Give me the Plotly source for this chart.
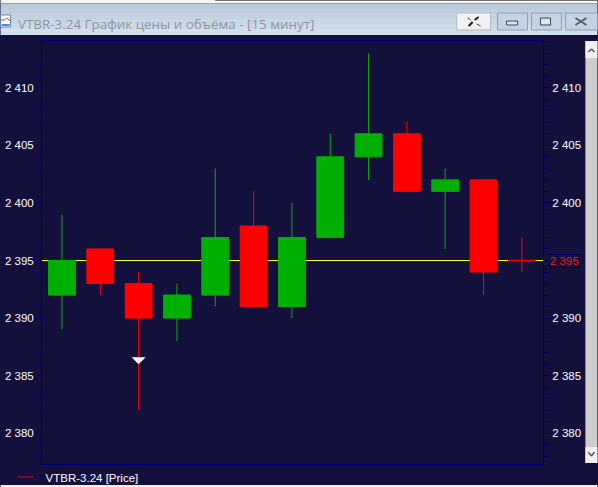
import plotly.graph_objects as go

# ---- data ----
bar_index = list(range(13))
opens = [2392, 2396, 2393, 2390, 2392, 2398, 2391, 2397, 2404, 2406, 2401, 2402, 2395.02]
closes = [2395, 2393, 2390, 2392, 2397, 2391, 2397, 2404, 2406, 2401, 2402, 2394, 2395]
highs = [2399, 2396, 2394, 2393, 2403, 2401, 2400, 2406, 2413, 2407, 2403, 2402, 2397]
lows = [2389, 2392, 2382, 2388, 2391, 2391, 2390, 2397, 2402, 2401, 2396, 2392, 2394]
last_price = 2395
signal_bar = 2
signal_price = 2386.6
tick_values = [2380, 2385, 2390, 2395, 2400, 2405, 2410]
tick_labels = ["2 380", "2 385", "2 390", "2 395", "2 400", "2 405", "2 410"]
right_labels = ["2 380", "2 385", "2 390", "", "2 400", "2 405", "2 410"]
title_text = "VTBR-3.24 График цены и объёма - [15 минут]"
legend_text = "VTBR-3.24 [Price]"

BG = "#14103C"
AXIS = "#000078"
GREEN = "#00B000"
RED = "#FF0000"
FONT = "Liberation Sans"

W, H = 598, 487
L, R_, T, B = 41.5, 543.5, 41, 464
ymax = 2395 + (260.5 - T) / 11.52
ymin = 2395 - (B - 260.5) / 11.52
xmin = -(61.5 - L) / 38.4
xmax = (R_ - 61.5) / 38.4


def px(x):
    return (x - L) / (R_ - L)


def py(y):
    return (B - y) / (B - T)


def rect(x0, y0, x1, y1, fill, line=None, width=1):
    return dict(type="rect", xref="paper", yref="paper", layer="above",
                x0=px(x0), x1=px(x1), y0=py(y0), y1=py(y1), fillcolor=fill,
                line=dict(color=line or fill, width=width if line else 0))


def seg(x0, y0, x1, y1, color, width=1):
    return dict(type="line", xref="paper", yref="paper", layer="above",
                x0=px(x0), x1=px(x1), y0=py(y0), y1=py(y1),
                line=dict(color=color, width=width))


fig = go.Figure()

# last price line (left axis, below candles)
fig.add_trace(go.Scatter(x=[xmin, xmax], y=[last_price, last_price], mode="lines",
                         line=dict(color="#FFFF30", width=1), yaxis="y",
                         showlegend=False, hoverinfo="skip"))
fig.add_trace(go.Candlestick(x=bar_index, open=opens, high=highs, low=lows, close=closes,
                             yaxis="y2", whiskerwidth=0, showlegend=False,
                             increasing=dict(line=dict(color=GREEN, width=1), fillcolor=GREEN),
                             decreasing=dict(line=dict(color=RED, width=1), fillcolor=RED)))
fig.add_trace(go.Scatter(x=[None], y=[None], mode="markers", name=legend_text, yaxis="y2",
                         marker=dict(symbol="line-ew", size=11,
                                     line=dict(color="#C01020", width=1))))

shapes = []
# top strip
shapes.append(rect(0, 0, W, 4, "#F4F4F4"))
shapes.append(rect(215, 0, W, 1, "#777777"))
shapes.append(rect(0, 3, W, 4, "#9AA4AE"))
# gradient title bar
bands = ["#BBCBDB", "#BFCFDF", "#C3D3E2", "#C8D7E6", "#CDDBE9", "#D2DFEC"]
for i, c in enumerate(bands):
    shapes.append(rect(0, 4 + i * 5, W, 4 + (i + 1) * 5 + 1, c))
# window icon
shapes.append(rect(0, 15, 10, 27, "#FFFFFF", "#5B86B5"))
shapes.append(seg(0, 20, 4, 20, "#D04030"))
shapes.append(seg(4, 20, 6, 18, "#D04030"))
shapes.append(seg(6, 18, 10, 21, "#D04030"))
shapes.append(rect(1, 24, 9, 26, "#5B86B5"))
# buttons
shapes.append(rect(457, 13, 491, 30, "#F1F1F1", "#AEB9C4"))
shapes.append(rect(498, 13, 528, 30, "#C5D4E3", "#8CA0B4"))
shapes.append(rect(532, 13, 562, 30, "#C5D4E3", "#8CA0B4"))
shapes.append(rect(566, 13, 598, 30, "#C5D4E3", "#8CA0B4"))
# link glyph
shapes.append(seg(469, 26, 473, 22, "#222222", 2))
shapes.append(seg(475, 20, 479, 17, "#222222", 2))
shapes.append(seg(468, 18, 471, 20, "#444444"))
shapes.append(seg(477, 24, 481, 26, "#444444"))
# min / max / close glyphs
shapes.append(rect(507, 21, 518, 25, "#DCE6F0", "#3C4650"))
shapes.append(rect(541, 18, 551, 25, "#DCE6F0", "#3C4650"))
shapes.append(seg(576, 18, 587, 25, "#555D66", 2))
shapes.append(seg(576, 25, 587, 18, "#555D66", 2))
# scrollbar
shapes.append(rect(586, 41, W, 463, "#CDCDCD"))
shapes.append(rect(586, 41, W, 58, "#F0F0F0"))
shapes.append(rect(586, 447, W, 463, "#F0F0F0"))
shapes.append(seg(589, 52, 592, 49, "#555555", 1.5))
shapes.append(seg(592, 49, 595, 52, "#555555", 1.5))
shapes.append(seg(589, 452, 592, 456, "#555555", 1.5))
shapes.append(seg(592, 456, 595, 452, "#555555", 1.5))
# bottom strip
shapes.append(rect(0, 485, W, H, "#F2F2F2"))
# signal marker anchored to the data
shapes.append(dict(type="path", xref="x", yref="y2", xsizemode="pixel", ysizemode="pixel",
                   xanchor=signal_bar, yanchor=signal_price,
                   path="M -7 0 L 7 0 L 0 -7 Z", fillcolor="#FFFFFF",
                   line=dict(width=0), layer="above"))

annotations = [
    dict(text=title_text, xref="paper", yref="paper", x=px(15.5), y=py(24), xanchor="left",
         yanchor="middle", showarrow=False, font=dict(family="Open Sans", size=13.4, color="#8C949C")),
    dict(text="2 395", xref="paper", yref="y2", x=px(565), y=last_price, xanchor="center",
         yanchor="middle", showarrow=False, font=dict(family=FONT, size=11.5, color="#E02020"),
         bordercolor="#000078", borderwidth=1, borderpad=0, bgcolor=BG),
]

fig.update_layout(
    width=W, height=H, autosize=False,
    margin=dict(l=L, r=W - R_, t=T, b=H - B, pad=0, autoexpand=False),
    paper_bgcolor=BG, plot_bgcolor=BG,
    font=dict(family=FONT, size=11.5, color="#FFFFFF"),
    boxgap=0.3, boxgroupgap=0,
    xaxis=dict(range=[xmin, xmax], showgrid=False, zeroline=False, showticklabels=False,
               ticks="", showline=True, mirror=True, linecolor=AXIS, linewidth=1,
               rangeslider=dict(visible=False)),
    yaxis=dict(range=[ymin, ymax], tickvals=tick_values, ticktext=tick_labels, ticks="outside",
               ticklen=5, tickcolor=AXIS, showgrid=False, zeroline=False, showline=True,
               linecolor=AXIS, side="left", tickfont=dict(family=FONT, size=11.5, color="#FFFFFF"),
               minor=dict(dtick=1, ticks="outside", ticklen=3, tickcolor=AXIS)),
    yaxis2=dict(range=[ymin, ymax], tickvals=tick_values, ticktext=right_labels, ticks="outside",
                ticklen=6, tickcolor=AXIS, showgrid=False, zeroline=False, showline=True,
                linecolor=AXIS, side="right", overlaying="y", anchor="x",
                tickfont=dict(family=FONT, size=11.5, color="#FFFFFF"),
                minor=dict(dtick=1, ticks="outside", ticklen=3, tickcolor=AXIS)),
    legend=dict(x=px(5), y=py(477), xanchor="left", yanchor="middle", bgcolor="rgba(0,0,0,0)",
                font=dict(family=FONT, size=11.5, color="#FFFFFF"), itemwidth=30),
    shapes=shapes, annotations=annotations,
)

fig.write_html("out.html", config=dict(displayModeBar=False),
               post_script="document.body.style.margin='0';document.body.style.background='" + BG + "';document.body.style.overflow='hidden';")
